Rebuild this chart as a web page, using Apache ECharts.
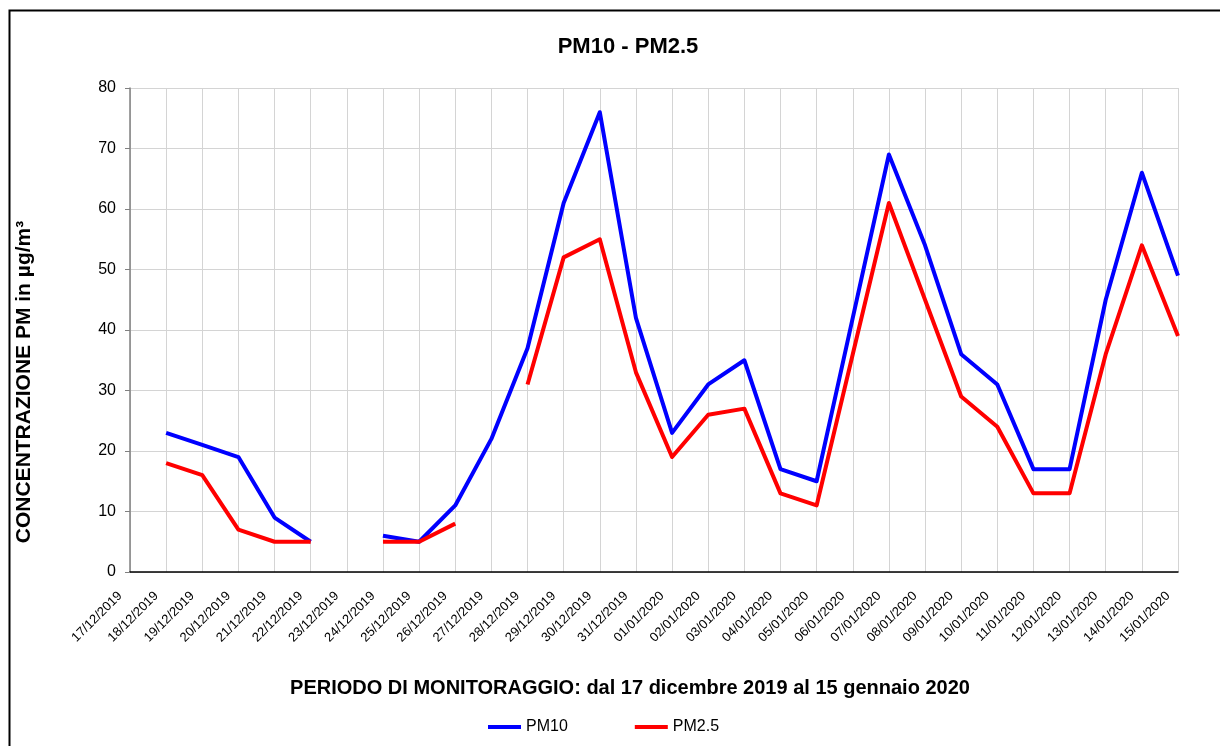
<!DOCTYPE html>
<html>
<head>
<meta charset="utf-8">
<script src="https://cdn.jsdelivr.net/npm/echarts@6/dist/echarts.min.js"></script>
<style>
html,body{margin:0;padding:0;background:#fff;}
#c{width:1220px;height:746px;}
</style>
</head>
<body>
<div id="c"></div>
<script>
var categories = ['17/12/2019','18/12/2019','19/12/2019','20/12/2019','21/12/2019','22/12/2019','23/12/2019','24/12/2019','25/12/2019','26/12/2019','27/12/2019','28/12/2019','29/12/2019','30/12/2019','31/12/2019','01/01/2020','02/01/2020','03/01/2020','04/01/2020','05/01/2020','06/01/2020','07/01/2020','08/01/2020','09/01/2020','10/01/2020','11/01/2020','12/01/2020','13/01/2020','14/01/2020','15/01/2020'];
var pm10 = [null,23,21,19,9,5,null,6,5,11,22,37,61,76,42,23,31,35,17,15,42,69,54,36,31,17,17,45,66,49];
var pm25 = [null,18,16,7,5,5,null,5,5,8,null,31,52,55,33,19,26,27,13,11,36,61,45,29,24,13,13,36,54,39];
var yTicks = {min:0, max:80, interval:10};
var titleText = 'PM10 - PM2.5';
var xName = 'PERIODO DI MONITORAGGIO: dal 17 dicembre 2019 al 15 gennaio 2020';
var yName = 'CONCENTRAZIONE PM in µg/m³';

var font = '"Liberation Sans", Arial, sans-serif';
var chart = echarts.init(document.getElementById('c'), null, {renderer:'canvas'});
chart.setOption({
  animation:false,
  backgroundColor:'#fff',
  textStyle:{fontFamily:font},
  graphic:[
    {type:'rect', left:7, top:8, z:-1,
     shape:{width:1300, height:900},
     style:{fill:'none', stroke:'#000', lineWidth:2}},
    {type:'text', x:628, y:47,
     style:{text:titleText, fontFamily:font, fontSize:22, fontWeight:'bold', fill:'#000', textAlign:'center', textVerticalAlign:'middle'}},
    {type:'text', x:630, y:688,
     style:{text:xName, fontFamily:font, fontSize:20, fontWeight:'bold', fill:'#000', textAlign:'center', textVerticalAlign:'middle'}},
    {type:'text', x:24, y:382, rotation:Math.PI/2,
     style:{text:yName, fontFamily:font, fontSize:21, fontWeight:'bold', fill:'#000', textAlign:'center', textVerticalAlign:'middle'}}
  ],
  legend:{
    data:['PM10','PM2.5'], left:488, top:719, padding:0,
    icon:'rect', itemWidth:33, itemHeight:4, itemGap:67,
    textStyle:{fontFamily:font, fontSize:16, color:'#000'}
  },
  grid:{left:130, right:42, top:88, bottom:174, containLabel:false},
  xAxis:{
    type:'category', data:categories, boundaryGap:false,
    axisLine:{lineStyle:{color:'#000', width:1.5}},
    axisTick:{show:false},
    axisLabel:{interval:0, rotate:45, fontSize:13, color:'#000', margin:12, padding:[0,14,0,0], fontFamily:font},
    splitLine:{show:true, lineStyle:{color:'#d4d4d4', width:1}}
  },
  yAxis:{
    type:'value', min:yTicks.min, max:yTicks.max, interval:yTicks.interval,
    axisLine:{show:true, lineStyle:{color:'#808080', width:1.5}},
    axisTick:{show:true, length:5, lineStyle:{color:'#808080'}},
    axisLabel:{fontSize:16, color:'#000', margin:14, fontFamily:font},
    splitLine:{show:true, lineStyle:{color:'#d4d4d4', width:1}}
  },
  series:[
    {name:'PM10', type:'line', data:pm10, symbol:'none', connectNulls:false,
     itemStyle:{color:'#0000ff'}, lineStyle:{color:'#0000ff', width:4, join:'round', cap:'butt'}},
    {name:'PM2.5', type:'line', data:pm25, symbol:'none', connectNulls:false,
     itemStyle:{color:'#ff0000'}, lineStyle:{color:'#ff0000', width:4, join:'round', cap:'butt'}}
  ]
});
</script>
</body>
</html>
